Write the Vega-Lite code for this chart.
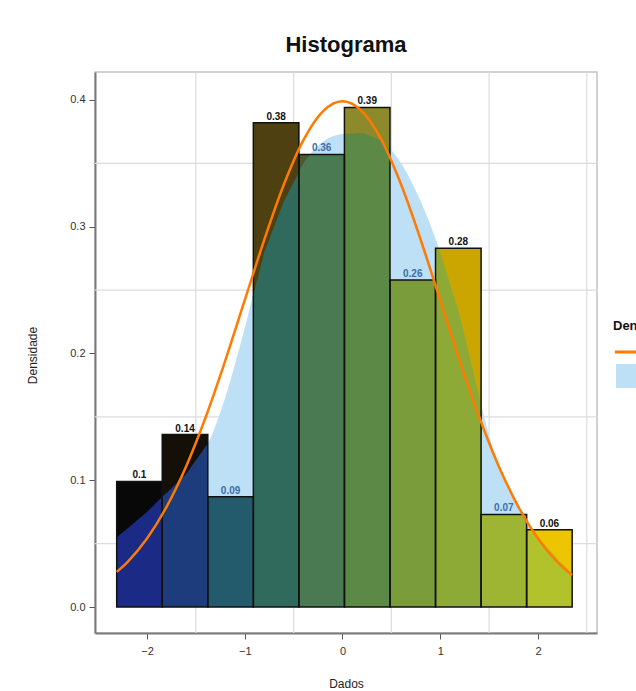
{
  "$schema": "https://vega.github.io/schema/vega-lite/v6.json",
  "autosize": {"type": "none"},
  "width": 502,
  "height": 561,
  "padding": {"left": 95, "top": 72, "right": 39, "bottom": 58},
  "background": "white",
  "title": {"text": "Histograma", "fontSize": 22, "font": "Liberation Sans", "fontWeight": "bold", "anchor": "middle", "offset": 14, "color": "#111111"},
  "config": {
    "view": {"stroke": "#c4c4c4", "strokeWidth": 1.5},
    "axis": {"labelFont": "Liberation Sans", "titleFont": "Liberation Sans", "labelFontSize": 11, "titleFontSize": 12, "titleFontWeight": "normal", "labelColor": "#333333", "titleColor": "#222222", "domainColor": "#7a7a7a", "domainWidth": 2, "tickColor": "#555555", "tickSize": 6, "grid": false},
    "axisX": {"labelPadding": 6, "titleY": 50, "titleBaseline": "middle"},
    "axisY": {"labelPadding": 4, "titleX": -63, "titleY": 283, "titleBaseline": "middle"},
    "legend": {"titleFont": "Liberation Sans", "labelFont": "Liberation Sans"}
  },
  "resolve": {"scale": {"fill": "independent", "color": "independent"}},
  "datasets": {
    "bars": [
      {"bin": 1, "start": -2.31, "end": -1.844, "mid": -2.077, "h": 0.099, "label": "0.1"},
      {"bin": 2, "start": -1.844, "end": -1.378, "mid": -1.611, "h": 0.136, "label": "0.14"},
      {"bin": 3, "start": -1.378, "end": -0.912, "mid": -1.145, "h": 0.087, "label": "0.09"},
      {"bin": 4, "start": -0.912, "end": -0.446, "mid": -0.679, "h": 0.382, "label": "0.38"},
      {"bin": 5, "start": -0.446, "end": 0.02, "mid": -0.213, "h": 0.357, "label": "0.36"},
      {"bin": 6, "start": 0.02, "end": 0.486, "mid": 0.253, "h": 0.394, "label": "0.39"},
      {"bin": 7, "start": 0.486, "end": 0.952, "mid": 0.719, "h": 0.258, "label": "0.26"},
      {"bin": 8, "start": 0.952, "end": 1.418, "mid": 1.185, "h": 0.283, "label": "0.28"},
      {"bin": 9, "start": 1.418, "end": 1.884, "mid": 1.651, "h": 0.073, "label": "0.07"},
      {"bin": 10, "start": 1.884, "end": 2.35, "mid": 2.117, "h": 0.061, "label": "0.06"}
    ],
    "caps": [
      {"bin": 1, "x": -2.31, "top": 0.099, "low": 0.055},
      {"bin": 1, "x": -2.2, "top": 0.099, "low": 0.062},
      {"bin": 1, "x": -2.0, "top": 0.099, "low": 0.075},
      {"bin": 1, "x": -1.844, "top": 0.099, "low": 0.087},
      {"bin": 2, "x": -1.844, "top": 0.136, "low": 0.087},
      {"bin": 2, "x": -1.8, "top": 0.136, "low": 0.09},
      {"bin": 2, "x": -1.6, "top": 0.136, "low": 0.105},
      {"bin": 2, "x": -1.378, "top": 0.136, "low": 0.129},
      {"bin": 4, "x": -0.912, "top": 0.382, "low": 0.246},
      {"bin": 4, "x": -0.8, "top": 0.382, "low": 0.28},
      {"bin": 4, "x": -0.6, "top": 0.382, "low": 0.32},
      {"bin": 4, "x": -0.446, "top": 0.382, "low": 0.343},
      {"bin": 5, "x": -0.446, "top": 0.357, "low": 0.343},
      {"bin": 5, "x": -0.4, "top": 0.357, "low": 0.35},
      {"bin": 5, "x": -0.33, "top": 0.357, "low": 0.357},
      {"bin": 6, "x": 0.02, "top": 0.394, "low": 0.373},
      {"bin": 6, "x": 0.2, "top": 0.394, "low": 0.374},
      {"bin": 6, "x": 0.4, "top": 0.394, "low": 0.368},
      {"bin": 6, "x": 0.486, "top": 0.394, "low": 0.36},
      {"bin": 8, "x": 0.985, "top": 0.283, "low": 0.283},
      {"bin": 8, "x": 1.0, "top": 0.283, "low": 0.28},
      {"bin": 8, "x": 1.2, "top": 0.283, "low": 0.23},
      {"bin": 8, "x": 1.418, "top": 0.283, "low": 0.16},
      {"bin": 10, "x": 1.89, "top": 0.061, "low": 0.061},
      {"bin": 10, "x": 2.0, "top": 0.061, "low": 0.055},
      {"bin": 10, "x": 2.2, "top": 0.061, "low": 0.038},
      {"bin": 10, "x": 2.35, "top": 0.061, "low": 0.026}
    ],
    "dens": [
      {"x": -2.31, "y": 0.055}, {"x": -2.2, "y": 0.062}, {"x": -2.0, "y": 0.075}, {"x": -1.8, "y": 0.09},
      {"x": -1.6, "y": 0.105}, {"x": -1.4, "y": 0.125}, {"x": -1.2, "y": 0.165}, {"x": -1.0, "y": 0.22},
      {"x": -0.8, "y": 0.28}, {"x": -0.6, "y": 0.32}, {"x": -0.4, "y": 0.35}, {"x": -0.2, "y": 0.367},
      {"x": 0.0, "y": 0.373}, {"x": 0.2, "y": 0.374}, {"x": 0.4, "y": 0.368}, {"x": 0.6, "y": 0.35},
      {"x": 0.8, "y": 0.32}, {"x": 1.0, "y": 0.28}, {"x": 1.2, "y": 0.23}, {"x": 1.4, "y": 0.165},
      {"x": 1.6, "y": 0.11}, {"x": 1.8, "y": 0.078}, {"x": 2.0, "y": 0.055}, {"x": 2.2, "y": 0.038},
      {"x": 2.35, "y": 0.026}
    ],
    "norm": [
      {"x": -2.31, "y": 0.0277}, {"x": -2.2, "y": 0.0355}, {"x": -2.0, "y": 0.054}, {"x": -1.8, "y": 0.079},
      {"x": -1.6, "y": 0.1109}, {"x": -1.4, "y": 0.1497}, {"x": -1.2, "y": 0.1942}, {"x": -1.0, "y": 0.242},
      {"x": -0.8, "y": 0.2897}, {"x": -0.6, "y": 0.3332}, {"x": -0.4, "y": 0.3683}, {"x": -0.2, "y": 0.391},
      {"x": 0.0, "y": 0.3989}, {"x": 0.2, "y": 0.391}, {"x": 0.4, "y": 0.3683}, {"x": 0.6, "y": 0.3332},
      {"x": 0.8, "y": 0.2897}, {"x": 1.0, "y": 0.242}, {"x": 1.2, "y": 0.1942}, {"x": 1.4, "y": 0.1497},
      {"x": 1.6, "y": 0.1109}, {"x": 1.8, "y": 0.079}, {"x": 2.0, "y": 0.054}, {"x": 2.2, "y": 0.0355},
      {"x": 2.35, "y": 0.0252}
    ],
    "gx": [{"g": -1.5}, {"g": -0.5}, {"g": 0.5}, {"g": 1.5}, {"g": 2.5}],
    "gy": [{"g": 0.05}, {"g": 0.15}, {"g": 0.25}, {"g": 0.35}]
  },
  "layer": [
    {
      "data": {"name": "gx"},
      "mark": {"type": "rule", "color": "#dcdcdc", "strokeWidth": 1.2},
      "encoding": {
        "x": {"field": "g", "type": "quantitative", "title": "Dados", "scale": {"domain": [-2.532, 2.604], "nice": false, "zero": false}}
      }
    },
    {
      "data": {"name": "gy"},
      "mark": {"type": "rule", "color": "#dcdcdc", "strokeWidth": 1.2},
      "encoding": {
        "y": {"field": "g", "type": "quantitative", "title": "Densidade", "scale": {"domain": [-0.0205, 0.422], "nice": false, "zero": false}}
      }
    },
    {
      "data": {"name": "dens"},
      "mark": {"type": "area", "interpolate": "monotone"},
      "encoding": {
        "x": {"field": "x", "type": "quantitative", "title": "Dados"},
        "y": {"field": "y", "type": "quantitative", "title": "Densidade"},
        "y2": {"datum": 0},
        "fill": {"datum": "Kernel", "type": "nominal", "scale": {"range": ["#bde0f6"]}, "legend": {"orient": "none", "legendX": 521, "legendY": 292, "title": null, "symbolType": "square", "symbolSize": 576, "symbolOpacity": 1, "symbolStrokeWidth": 0, "labelFontSize": 11}}
      }
    },
    {
      "data": {"name": "bars"},
      "mark": {"type": "bar", "strokeWidth": 0},
      "encoding": {
        "x": {"field": "start", "type": "quantitative", "title": "Dados", "scale": {"domain": [-2.532, 2.604], "nice": false, "zero": false}, "axis": {"values": [-2, -1, 0, 1, 2], "format": "d"}},
        "x2": {"field": "end"},
        "y": {"field": "h", "type": "quantitative", "title": "Densidade", "scale": {"domain": [-0.0205, 0.422], "nice": false, "zero": false}, "axis": {"values": [0, 0.1, 0.2, 0.3, 0.4], "format": ".1f"}},
        "y2": {"datum": 0},
        "color": {"field": "bin", "type": "ordinal", "scale": {"domain": [1, 2, 3, 4, 5, 6, 7, 8, 9, 10], "range": ["#1b2a85", "#1d3c7c", "#235a6c", "#2f6a5c", "#4a7a52", "#5c8a46", "#7a9c3a", "#8eaa36", "#9db532", "#b2c22c"]}, "legend": null}
      }
    },
    {
      "data": {"name": "caps"},
      "mark": {"type": "area", "interpolate": "linear"},
      "encoding": {
        "x": {"field": "x", "type": "quantitative", "title": "Dados"},
        "y": {"field": "top", "type": "quantitative", "title": "Densidade"},
        "y2": {"field": "low"},
        "detail": {"field": "bin", "type": "ordinal"},
        "fill": {"field": "bin", "type": "ordinal", "scale": {"domain": [1, 2, 4, 5, 6, 8, 10], "range": ["#080808", "#141008", "#4e4010", "#4a5a30", "#8c8a2a", "#cca600", "#ecc400"]}, "legend": null}
      }
    },
    {
      "data": {"name": "bars"},
      "mark": {"type": "bar", "fillOpacity": 0, "stroke": "#111111", "strokeWidth": 1.5},
      "encoding": {
        "x": {"field": "start", "type": "quantitative", "title": "Dados"},
        "x2": {"field": "end"},
        "y": {"field": "h", "type": "quantitative", "title": "Densidade"},
        "y2": {"datum": 0}
      }
    },
    {
      "data": {"name": "bars"},
      "mark": {"type": "text", "fontSize": 10, "fontWeight": "bold", "font": "Liberation Sans", "baseline": "bottom", "dy": -1},
      "encoding": {
        "x": {"field": "mid", "type": "quantitative", "title": "Dados"},
        "y": {"field": "h", "type": "quantitative", "title": "Densidade"},
        "text": {"field": "label"},
        "color": {"condition": {"test": "indexof(['0.09','0.36','0.26','0.07'], datum.label) >= 0", "value": "#3a6ea8"}, "value": "#111111"}
      }
    },
    {
      "data": {"name": "norm"},
      "mark": {"type": "line", "strokeWidth": 2.5, "interpolate": "monotone"},
      "encoding": {
        "x": {"field": "x", "type": "quantitative", "title": "Dados"},
        "y": {"field": "y", "type": "quantitative", "title": "Densidade"},
        "stroke": {"datum": "Normal", "type": "nominal", "scale": {"range": ["#ff7a00"]}, "legend": {"orient": "none", "legendX": 518, "legendY": 248, "title": "Densidade", "titleFontSize": 13, "titleFontWeight": "bold", "titleColor": "#111111", "titlePadding": 6, "symbolType": "stroke", "symbolStrokeWidth": 3, "symbolSize": 500, "labelFontSize": 11}}
      }
    }
  ]
}
